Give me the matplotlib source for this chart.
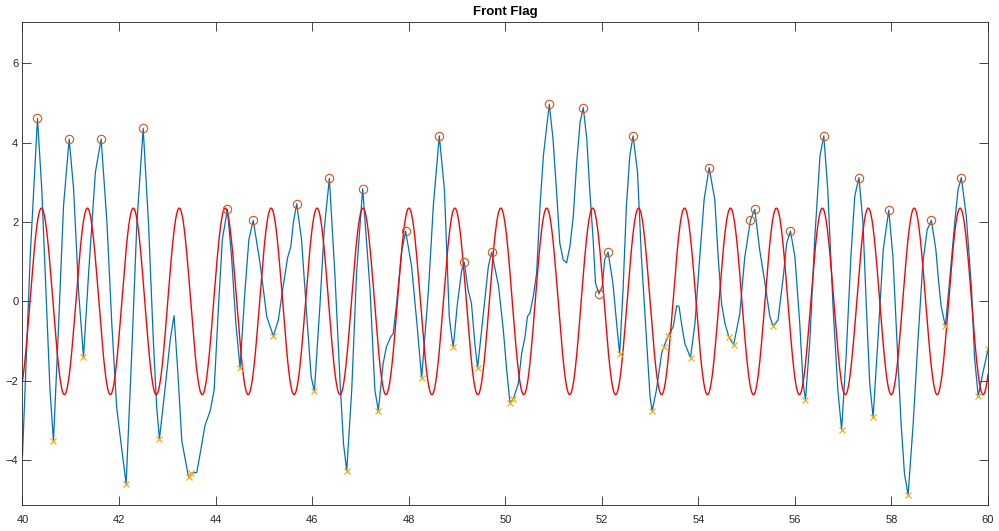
import numpy as np
import matplotlib
matplotlib.use('Agg')
import matplotlib.pyplot as plt

plt.rcParams['font.family'] = ['Liberation Sans', 'DejaVu Sans']

# measured flag signal (blue)
blue_t = [40.00, 40.16, 40.311, 40.40, 40.50, 40.57, 40.642, 40.75, 40.85, 40.967,
          41.06, 41.16, 41.264, 41.37, 41.51, 41.63, 41.75, 41.85, 41.95, 42.06,
          42.147, 42.26, 42.37, 42.50, 42.61, 42.71, 42.78, 42.837, 42.95, 43.06,
          43.14, 43.22, 43.30, 43.44, 43.49, 43.61, 43.68, 43.78, 43.89, 43.97,
          44.06, 44.14, 44.245, 44.33, 44.42, 44.507, 44.61, 44.69, 44.78, 44.92,
          44.99, 45.06, 45.13, 45.197, 45.30, 45.40, 45.49, 45.56, 45.61, 45.68,
          45.78, 45.89, 45.98, 46.046, 46.16, 46.25, 46.357, 46.47, 46.58, 46.65,
          46.716, 46.82, 46.92, 47.047, 47.20, 47.30, 47.371, 47.47, 47.54, 47.63,
          47.68, 47.75, 47.86, 47.937, 48.06, 48.17, 48.268, 48.41, 48.51, 48.634,
          48.74, 48.81, 48.84, 48.89, 48.924, 49.01, 49.10, 49.152, 49.23, 49.30,
          49.37, 49.428, 49.54, 49.65, 49.718, 49.86, 49.96, 50.03, 50.097, 50.17,
          50.27, 50.34, 50.41, 50.46, 50.51, 50.58, 50.65, 50.72, 50.79, 50.912,
          50.99, 51.06, 51.13, 51.20, 51.27, 51.34, 51.41, 51.48, 51.55, 51.616,
          51.69, 51.75, 51.82, 51.87, 51.94, 52.01, 52.06, 52.13, 52.23, 52.32,
          52.37, 52.44, 52.51, 52.58, 52.648, 52.74, 52.82, 52.93, 53.00, 53.044,
          53.13, 53.24, 53.286, 53.375, 53.48, 53.55, 53.60, 53.65, 53.72, 53.838,
          53.93, 54.03, 54.12, 54.224, 54.34, 54.41, 54.48, 54.55, 54.631, 54.73,
          54.86, 54.96, 55.079, 55.169, 55.27, 55.38, 55.48, 55.551, 55.65, 55.76,
          55.83, 55.908, 56.00, 56.10, 56.17, 56.219, 56.31, 56.41, 56.52, 56.599,
          56.68, 56.79, 56.89, 56.967, 57.06, 57.16, 57.24, 57.326, 57.41, 57.48,
          57.55, 57.62, 57.72, 57.83, 57.944, 58.03, 58.13, 58.20, 58.27, 58.345,
          58.45, 58.55, 58.65, 58.74, 58.827, 58.92, 58.98, 59.03, 59.116, 59.20,
          59.31, 59.38, 59.448, 59.55, 59.66, 59.72, 59.797, 59.89, 60.00]
blue_v = [-3.89, 1.13, 4.61, 2.82, -0.13, -2.24, -3.52, -0.55, 2.40, 4.09,
          2.82, 0.29, -1.40, 0.71, 3.25, 4.09, 1.98, -0.55, -2.66, -3.76,
          -4.60, -1.40, 1.98, 4.36, 1.98, -0.97, -2.66, -3.46, -2.24, -0.97,
          -0.36, -1.82, -3.51, -4.43, -4.33, -4.31, -3.84, -3.13, -2.75, -2.24,
          -0.13, 1.56, 2.32, 1.13, -0.55, -1.67, 0.29, 1.56, 2.04, 0.97,
          0.29, -0.38, -0.64, -0.87, -0.47, 0.38, 1.09, 1.39, 1.98, 2.46,
          1.56, -0.38, -1.90, -2.27, -0.13, 1.81, 3.10, 0.71, -2.07, -3.59,
          -4.27, -2.24, 0.71, 2.84, 0.29, -2.24, -2.75, -1.57, -1.14, -0.89,
          -0.81, -0.05, 1.30, 1.77, 0.88, -0.55, -1.93, 0.29, 2.40, 4.17,
          2.82, 0.63, -0.38, -0.89, -1.14, -0.05, 0.80, 0.98, 0.29, -0.05,
          -1.06, -1.67, -0.38, 0.88, 1.24, 0.40, -0.72, -1.73, -2.56, -2.45,
          -2.07, -1.31, -0.89, -0.38, -0.30, 0.12, 0.71, 2.40, 3.67, 4.97,
          4.09, 2.82, 1.47, 1.05, 0.97, 1.39, 2.15, 3.50, 4.51, 4.88,
          4.09, 2.82, 1.56, 0.46, 0.19, 0.38, 1.05, 1.24, 0.46, -0.72,
          -1.33, 0.29, 2.40, 3.67, 4.17, 3.25, 1.13, -1.06, -2.41, -2.76,
          -2.24, -1.31, -1.14, -0.87, -0.64, -0.11, -0.13, -0.55, -1.06, -1.42,
          -0.55, 1.13, 2.57, 3.37, 2.57, 1.13, -0.05, -0.55, -0.89, -1.10,
          -0.30, 1.10, 2.04, 2.32, 1.30, 0.46, -0.38, -0.62, -0.47, 0.63,
          1.47, 1.77, 1.13, -0.55, -2.07, -2.48, -0.97, 1.56, 3.67, 4.17,
          2.82, -0.13, -2.24, -3.23, -1.40, 1.13, 2.65, 3.12, 1.98, -0.13,
          -2.07, -2.92, -0.97, 1.30, 2.30, 1.13, -1.40, -3.08, -4.35, -4.87,
          -3.08, -0.97, 0.97, 1.81, 2.04, 1.30, 0.46, -0.13, -0.62, 0.46,
          1.98, 2.82, 3.12, 2.15, 0.29, -1.40, -2.39, -1.82, -1.21]

# detected peaks (circles)
peak_t = [40.311, 40.967, 41.63, 42.50, 44.245, 44.78, 45.68, 46.357, 47.047,
          47.937, 48.634, 49.152, 49.718, 50.912, 51.616, 51.94, 52.13, 52.648,
          54.224, 55.079, 55.169, 55.908, 56.599, 57.326, 57.944, 58.827, 59.448]
peak_v = [4.61, 4.09, 4.09, 4.36, 2.32, 2.04, 2.46, 3.10, 2.84,
          1.77, 4.17, 0.98, 1.24, 4.97, 4.88, 0.19, 1.24, 4.17,
          3.37, 2.04, 2.32, 1.77, 4.17, 3.12, 2.30, 2.04, 3.12]

# detected troughs (crosses)
trough_t = [40.642, 41.264, 42.147, 42.837, 43.44, 43.49, 44.507, 45.197, 46.046,
            46.716, 47.371, 48.268, 48.924, 49.428, 50.097, 50.17, 52.37, 53.044,
            53.286, 53.375, 53.838, 54.631, 54.73, 55.551, 56.219, 56.967, 57.62,
            58.345, 59.116, 59.797, 60.00]
trough_v = [-3.52, -1.40, -4.60, -3.46, -4.43, -4.33, -1.67, -0.87, -2.27,
            -4.27, -2.75, -1.93, -1.14, -1.67, -2.56, -2.45, -1.33, -2.76,
            -1.14, -0.87, -1.42, -0.89, -1.10, -0.62, -2.48, -3.23, -2.92,
            -4.87, -0.62, -2.39, -1.21]

# reference oscillation (red)
ref_amp = 2.35
ref_freq = 1.051
ref_t0 = 40.393

t = np.linspace(40, 60, 4000)
ref = ref_amp * np.cos(2 * np.pi * ref_freq * (t - ref_t0))

fig = plt.figure(figsize=(9.99, 5.31), dpi=100)
ax = fig.add_axes([0.0225, 0.049, 0.9665, 0.9096])

ax.plot(blue_t, blue_v, color='#0072BD', lw=0.9, solid_joinstyle='round')
ax.plot(t, ref, color='#FF0000', lw=1.0)
ax.plot(peak_t, peak_v, 'o', mfc='none', mec='#D95319', ms=6, mew=0.8)
ax.plot(trough_t, trough_v, 'x', color='#EDB120', ms=4.5, mew=0.9)

ax.set_xlim(40, 60)
ax.set_ylim(-5.13, 7.04)
ax.set_xticks(np.arange(40, 61, 2))
ax.set_yticks(np.arange(-4, 7, 2))
ax.tick_params(direction='in', length=6.8, width=0.6, colors='#262626',
               labelsize=8, top=True, right=True)
ax.tick_params(axis='x', pad=7)
ax.tick_params(axis='y', pad=3)
for s in ax.spines.values():
    s.set_color('#262626')
    s.set_linewidth(0.6)

ax.set_title('Front Flag', fontsize=9.5, fontweight='bold', pad=5)

fig.savefig('out.png', dpi=100)
